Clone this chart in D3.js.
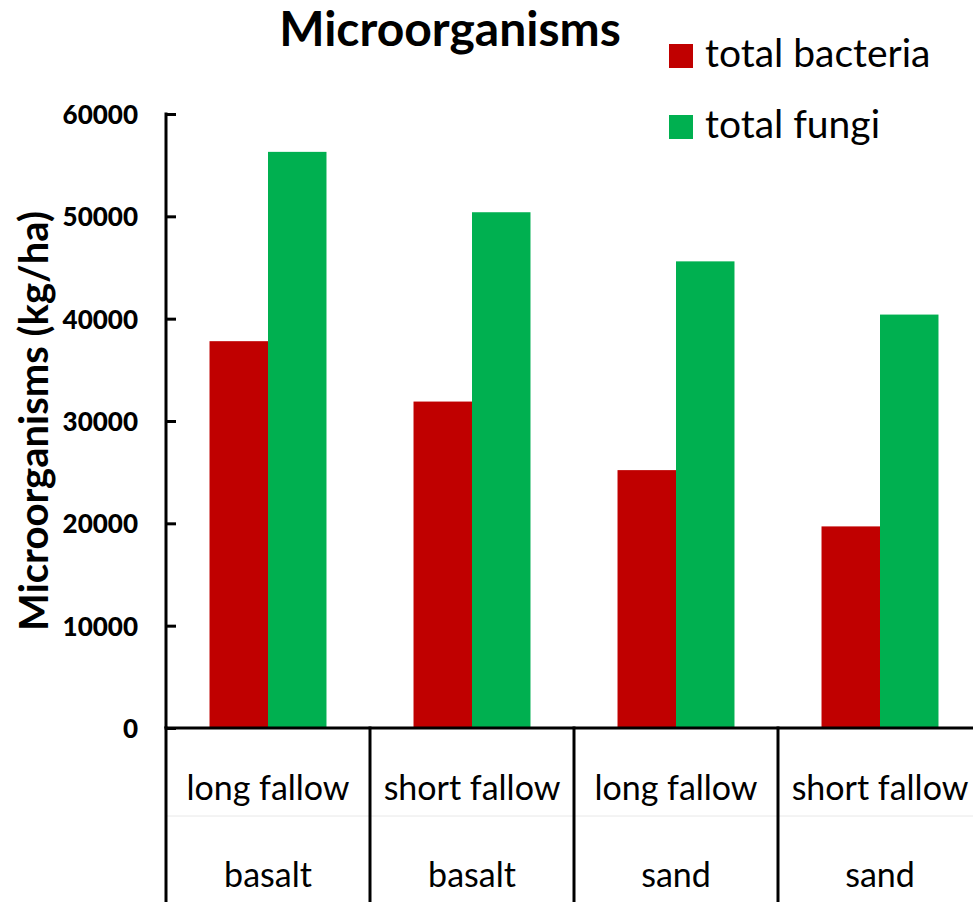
<!DOCTYPE html>
<html>
<head>
<meta charset="utf-8">
<script src="https://cdn.jsdelivr.net/npm/d3@7"></script>
<style>
  body { margin: 0; background: #fff; }
  text { font-family: Lato, "Open Sans", sans-serif; }
</style>
</head>
<body>
<svg id="chart" width="973" height="902"></svg>
<script>
// data
let categories = ["long fallow|basalt", "short fallow|basalt", "long fallow|sand", "short fallow|sand"]
let fallowLabels = ["long fallow", "short fallow", "long fallow", "short fallow"]
let soilLabels = ["basalt", "basalt", "sand", "sand"]
let seriesNames = ["total bacteria", "total fungi"]
let bacteria = [37800, 31900, 25200, 19700]
let fungi = [56300, 50400, 45600, 40400]
let yTicks = [0, 10000, 20000, 30000, 40000, 50000, 60000]
let colors = ["#C00000", "#00B050"]

let svg = d3.select("#chart")

let plotLeft = 166, plotRight = 982, plotTop = 114, plotBottom = 728

let x0 = d3.scaleBand()
    .domain(categories)
    .range([plotLeft, plotRight])
    .padding(0)

let x1 = d3.scaleBand()
    .domain(seriesNames)
    .range([0, x0.bandwidth()])
    .paddingInner(0)
    .paddingOuter(0.744)

let y = d3.scaleLinear()
    .domain([0, 60000])
    .range([plotBottom, plotTop])

let color = d3.scaleOrdinal().domain(seriesNames).range(colors)

let rows = categories.map((c, i) => ({cat: c, values: [
    {name: seriesNames[0], value: bacteria[i]},
    {name: seriesNames[1], value: fungi[i]}
]}))

// bars
svg.append("g")
    .selectAll("g")
    .data(rows)
    .enter()
    .append("g")
    .attr("transform", d => "translate(" + x0(d.cat) + ",0)")
    .selectAll("rect")
    .data(d => d.values)
    .enter()
    .append("rect")
    .attr("x", d => x1(d.name))
    .attr("y", d => y(d.value))
    .attr("width", x1.bandwidth())
    .attr("height", d => y(0) - y(d.value))
    .attr("fill", d => color(d.name))

// y axis
let yAxis = svg.append("g")
    .attr("transform", "translate(" + plotLeft + ",0)")
    .call(d3.axisLeft(y).tickValues(yTicks).tickSize(-10).tickPadding(28).tickFormat(d3.format("d")))
yAxis.select(".domain").attr("stroke", "#000").attr("stroke-width", 3)
    .attr("d", "M0," + (plotTop - 1.5) + "V" + plotBottom)
yAxis.selectAll(".tick line").attr("stroke", "#000").attr("stroke-width", 3)
yAxis.selectAll(".tick text")
    .attr("fill", "#000")
    .style("font-size", "26px")
    .style("font-weight", "900")
    .attr("dy", "0.36em")

// x axis line
svg.append("line")
    .attr("x1", plotLeft - 1.5).attr("x2", plotRight)
    .attr("y1", plotBottom).attr("y2", plotBottom)
    .attr("stroke", "#000").attr("stroke-width", 3)

// faint row separator
svg.append("line")
    .attr("x1", plotLeft).attr("x2", plotRight)
    .attr("y1", 816).attr("y2", 816)
    .attr("stroke", "#e8e8e8").attr("stroke-width", 1)

// category separators
let seps = categories.map(c => x0(c))
svg.selectAll(".sep")
    .data(seps)
    .enter()
    .append("line")
    .attr("class", "sep")
    .attr("x1", d => d).attr("x2", d => d)
    .attr("y1", plotBottom - 1.5).attr("y2", 902)
    .attr("stroke", "#000").attr("stroke-width", 3)

// category labels
svg.selectAll(".lab1")
    .data(categories)
    .enter()
    .append("text")
    .attr("class", "lab1")
    .attr("x", d => x0(d) + x0.bandwidth() / 2)
    .attr("y", 800)
    .attr("text-anchor", "middle")
    .style("font-size", "34px")
    .text((d, i) => fallowLabels[i])

svg.selectAll(".lab2")
    .data(categories)
    .enter()
    .append("text")
    .attr("class", "lab2")
    .attr("x", d => x0(d) + x0.bandwidth() / 2)
    .attr("y", 887)
    .attr("text-anchor", "middle")
    .style("font-size", "34px")
    .text((d, i) => soilLabels[i])

// title
svg.append("text")
    .attr("x", 450)
    .attr("y", 46)
    .attr("text-anchor", "middle")
    .style("font-size", "48px")
    .style("font-weight", "bold")
    .text("Microorganisms")

// y label
svg.append("text")
    .attr("transform", "translate(48,421) rotate(-90)")
    .attr("text-anchor", "middle")
    .style("font-size", "40px")
    .style("font-weight", "bold")
    .text("Microorganisms (kg/ha)")

// legend
let legend = svg.append("g")
    .selectAll("g")
    .data(seriesNames)
    .enter()
    .append("g")
    .attr("transform", (d, i) => "translate(669," + (44 + i * 71) + ")")
legend.append("rect")
    .attr("width", 24).attr("height", 24)
    .attr("fill", d => color(d))
legend.append("text")
    .attr("x", 36)
    .attr("y", 23)
    .style("font-size", "39px")
    .text(d => d)
</script>
</body>
</html>
